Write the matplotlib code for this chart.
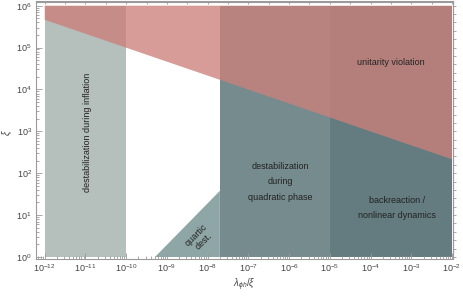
import numpy as np
import matplotlib
matplotlib.use("Agg")
import matplotlib.pyplot as plt
from matplotlib.ticker import LogLocator, NullFormatter, FixedLocator

plt.rcParams["font.family"] = ["Liberation Sans", "DejaVu Sans"]
plt.rcParams["mathtext.fontset"] = "custom"
plt.rcParams["mathtext.rm"] = "Liberation Sans"
plt.rcParams["mathtext.it"] = "Liberation Sans:italic"
plt.rcParams["mathtext.sf"] = "Liberation Sans"

# region boundaries in lambda_phi_h / xi
lam_edges = [1e-12, 1e-10, 2e-8, 1e-5, 1e-2]
xi_min, xi_max = 1.0, 1e6

# unitarity bound (straight line in log-log)
unit_lam = [1e-12, 1e-2]
unit_xi = [4.6e5, 2.15e2]

# quartic destabilization edge
quart_lam = [5.1e-10, 2e-8]
quart_xi = [1.0, 38.0]

x_major = [10.0 ** k for k in range(-12, -1)]
y_major = [10.0 ** k for k in range(0, 7)]

region_colors = {
    "inflation": "#b5bfbc",
    "quartic": "#8fa6a7",
    "quadratic": "#768b8e",
    "backreaction": "#647c80",
}
red = (0.80, 0.50, 0.48)

fig = plt.figure(figsize=(4.64, 2.97), dpi=100)
ax = fig.add_axes([36 / 464, 1 - 258.5 / 297, (453 - 36) / 464, (258.5 - 1.5) / 297])
ax.set_xscale("log")
ax.set_yscale("log")

ax.fill_between([lam_edges[0], lam_edges[1]], xi_min, xi_max, color=region_colors["inflation"], lw=0)
ax.fill([quart_lam[0], quart_lam[1], quart_lam[1]], [quart_xi[0], quart_xi[1], quart_xi[0]],
        color=region_colors["quartic"], lw=0)
ax.fill_between([lam_edges[2], lam_edges[3]], xi_min, xi_max, color=region_colors["quadratic"], lw=0)
ax.fill_between([lam_edges[3], lam_edges[4]], xi_min, xi_max, color=region_colors["backreaction"], lw=0)
ax.fill([unit_lam[0], unit_lam[1], unit_lam[1], unit_lam[0]],
        [unit_xi[0], unit_xi[1], xi_max, xi_max], color=red, alpha=0.78, lw=0)

ax.set_xlim(10 ** -12.214, 10 ** -1.975)
ax.set_ylim(10 ** -0.036, 10 ** 6.1)

txt = dict(fontsize=6.5, color="#222222", ha="center", va="center")
ax.text(3.2e-4, 4.5e4, "unitarity violation", **txt)
ax.text(1.1e-11, 9.5e2, "destabilization during inflation", rotation=90, **txt)
ax.text(6e-7, 62, "destabilization\nduring\nquadratic phase", linespacing=1.9, **txt)
ax.text(4.5e-4, 15, "backreaction /\nnonlinear dynamics", linespacing=1.9, **txt)
ax.text(6.5e-9, 2.8, "quartic\ndest.", rotation=45, linespacing=1.1, **txt)

frame_col = "#9a9a9a"
for s in ax.spines.values():
    s.set_color(frame_col)
    s.set_linewidth(0.8)

ax.xaxis.set_major_locator(FixedLocator(x_major))
ax.xaxis.set_minor_locator(LogLocator(base=10, subs=np.arange(2, 10), numticks=20))
ax.yaxis.set_major_locator(FixedLocator(y_major))
ax.yaxis.set_minor_locator(LogLocator(base=10, subs=np.arange(2, 10), numticks=20))
ax.xaxis.set_minor_formatter(NullFormatter())
ax.yaxis.set_minor_formatter(NullFormatter())
ax.tick_params(which="both", direction="in", color=frame_col, labelsize=6.5, labelcolor="#444444",
               top=False, right=False, width=0.6)
ax.tick_params(which="major", length=4, pad=3)
ax.tick_params(which="minor", length=2)

# top and right frame ticks (unlabelled)
top = ax.secondary_xaxis("top")
top.xaxis.set_major_locator(FixedLocator([10 ** (k / 2) for k in range(-24, -3)]))
top.xaxis.set_minor_locator(FixedLocator([]))
top.tick_params(direction="in", length=2, color=frame_col, labeltop=False, width=0.6)
top.spines["top"].set_color(frame_col)
right = ax.secondary_yaxis("right")
right.yaxis.set_major_locator(FixedLocator([10 ** (k / 5) for k in range(0, 31)]))
right.yaxis.set_minor_locator(FixedLocator([]))
right.tick_params(direction="out", length=2, color=frame_col, labelright=False, width=0.6)
right.spines["right"].set_color(frame_col)

ax.set_xlabel(r"$\lambda_{\phi h}/\xi$", fontsize=7, color="#444444")
ax.xaxis.set_label_coords(0.5, -0.072)
ax.set_ylabel(r"$\xi$", fontsize=7, color="#444444")
ax.yaxis.set_label_coords(-0.052, 0.49)

fig.savefig("out.png", dpi=100)
